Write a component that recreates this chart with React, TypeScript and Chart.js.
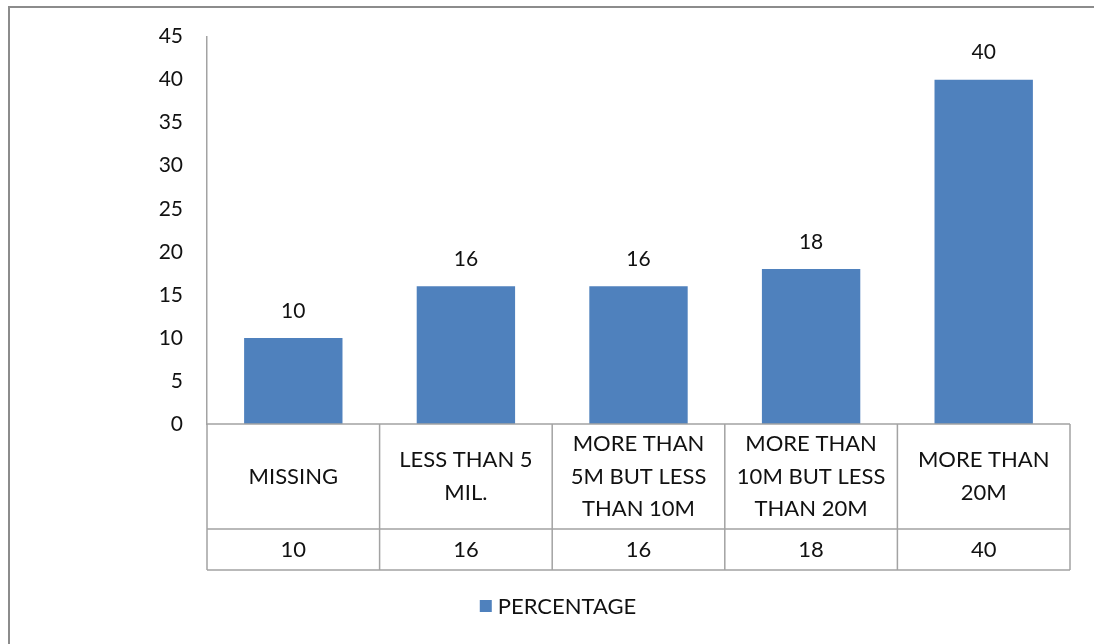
import { useEffect, useRef } from "react";
import { Chart, registerables } from "chart.js";

Chart.register(...registerables);

const categories: string[][] = [
  ["MISSING"],
  ["LESS THAN 5", "MIL."],
  ["MORE THAN", "5M BUT LESS", "THAN 10M"],
  ["MORE THAN", "10M BUT LESS", "THAN 20M"],
  ["MORE THAN", "20M"],
];
const percentages = [10, 16, 16, 18, 40];
const seriesLabel = "PERCENTAGE";
const yMin = 0;
const yMax = 45;
const yStep = 5;

const BAR_COLOR = "#4f81bd";
const TEXT_COLOR = "#111111";
const LINE_COLOR = "#a3a3a3";
const FONT = "Lato, 'Open Sans', sans-serif";

const decorPlugin = {
  id: "decor",
  beforeDraw(chart: any) {
    const { ctx, width, height } = chart;
    ctx.save();
    ctx.fillStyle = "#ffffff";
    ctx.fillRect(0, 0, width, height);
    ctx.fillStyle = "#8c8c8c";
    ctx.fillRect(8, 6, 2, height - 6);
    ctx.fillRect(8, 6, width - 8, 2);
    ctx.restore();
  },
  afterDatasetsDraw(chart: any) {
    const { ctx } = chart;
    const meta = chart.getDatasetMeta(0);
    const data = chart.data.datasets[0].data as number[];
    ctx.save();
    ctx.fillStyle = TEXT_COLOR;
    ctx.font = `21px ${FONT}`;
    ctx.textAlign = "center";
    ctx.textBaseline = "middle";
    meta.data.forEach((el: any, i: number) => {
      ctx.fillText(String(data[i]), el.x, el.y - 27);
    });
    ctx.restore();
  },
  afterDraw(chart: any) {
    const { ctx, chartArea } = chart;
    const xs = chart.scales.x;
    const labels = chart.data.labels as string[][];
    const data = chart.data.datasets[0].data as number[];
    const n = labels.length;
    const bounds: number[] = [chartArea.left];
    for (let i = 0; i < n - 1; i++) {
      bounds.push((xs.getPixelForValue(i) + xs.getPixelForValue(i + 1)) / 2);
    }
    bounds.push(chartArea.right);
    const top = chartArea.bottom;
    const mid = top + 105;
    const bottom = top + 146;

    ctx.save();
    ctx.strokeStyle = LINE_COLOR;
    ctx.lineWidth = 1.5;
    ctx.beginPath();
    [top, mid, bottom].forEach((y) => {
      ctx.moveTo(chartArea.left, y);
      ctx.lineTo(chartArea.right, y);
    });
    bounds.forEach((bx) => {
      ctx.moveTo(bx, top);
      ctx.lineTo(bx, bottom);
    });
    ctx.stroke();

    ctx.fillStyle = TEXT_COLOR;
    ctx.font = `22px ${FONT}`;
    ctx.textAlign = "center";
    ctx.textBaseline = "middle";
    const lh = 32.5;
    for (let i = 0; i < n; i++) {
      const cx = (bounds[i] + bounds[i + 1]) / 2;
      const lines = labels[i];
      const cy = (top + mid) / 2;
      lines.forEach((ln, j) => {
        ctx.fillText(ln, cx, cy + (j - (lines.length - 1) / 2) * lh);
      });
      ctx.fillText(String(data[i]), cx, (mid + bottom) / 2);
    }

    // legend
    const label = chart.data.datasets[0].label as string;
    ctx.font = `22px ${FONT}`;
    const tw = ctx.measureText(label).width;
    const total = 12 + 6 + tw;
    const lx = 558 - total / 2;
    const ly = 606;
    ctx.fillStyle = BAR_COLOR;
    ctx.fillRect(lx, ly - 6, 12, 12);
    ctx.fillStyle = TEXT_COLOR;
    ctx.textAlign = "left";
    ctx.fillText(label, lx + 18, ly + 1);
    ctx.restore();
  },
};

export default function App() {
  const ref = useRef<HTMLCanvasElement | null>(null);
  useEffect(() => {
    if (!ref.current) return;
    const chart = new Chart(ref.current, {
      type: "bar",
      data: {
        labels: categories,
        datasets: [
          {
            label: seriesLabel,
            data: percentages,
            backgroundColor: BAR_COLOR,
            categoryPercentage: 1,
            barPercentage: 0.57,
          },
        ],
      },
      options: {
        animation: false,
        responsive: false,
        devicePixelRatio: 1,
        layout: { padding: { left: 0, top: 34, right: 24, bottom: 220 } },
        plugins: {
          legend: { display: false },
          tooltip: { enabled: false },
        },
        scales: {
          x: { display: false },
          y: {
            min: yMin,
            max: yMax,
            afterFit: (axis: any) => {
              axis.width = 207;
            },
            ticks: {
              stepSize: yStep,
              padding: 24,
              color: TEXT_COLOR,
              font: { family: FONT, size: 21 },
            },
            grid: { display: false, drawTicks: false },
            border: { display: true, color: LINE_COLOR, width: 1.5 },
          },
        },
      },
      plugins: [decorPlugin],
    });
    return () => chart.destroy();
  }, []);
  return (
    <div style={{ position: "fixed", left: 0, top: 0, width: 1094, height: 644, background: "#fff" }}>
      <canvas ref={ref} width={1094} height={644} style={{ display: "block" }} />
    </div>
  );
}
